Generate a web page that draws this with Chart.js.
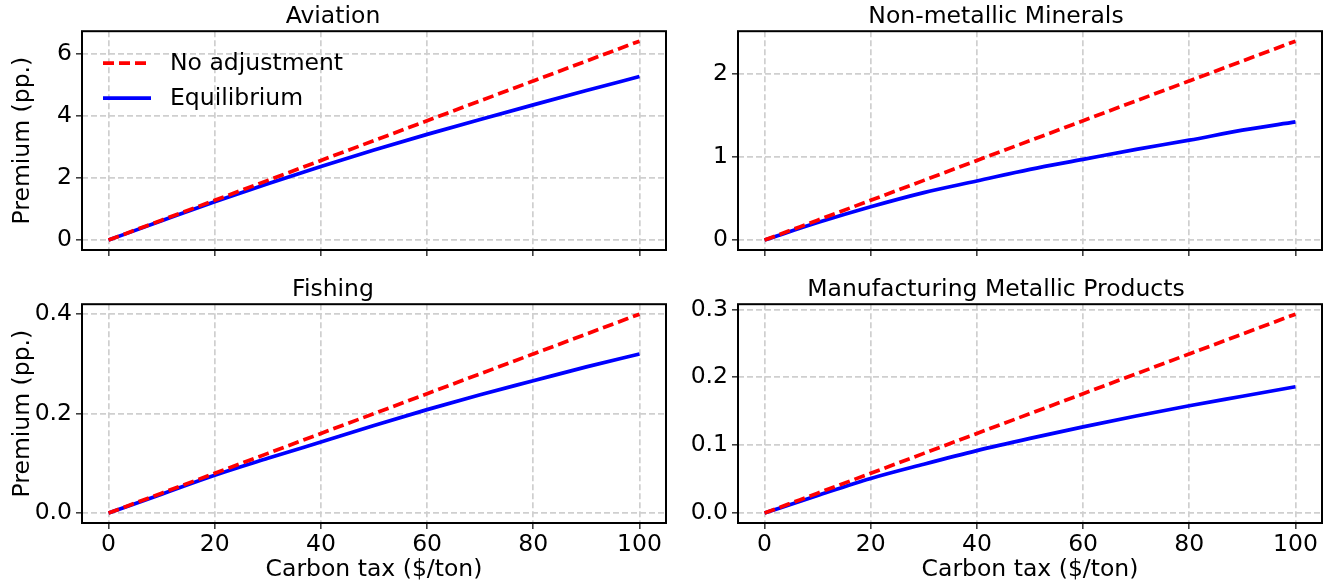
<!DOCTYPE html>
<html>
<head>
<meta charset="utf-8">
<script src="https://cdn.jsdelivr.net/npm/chart.js@4/dist/chart.umd.min.js"></script>
<style>
    html, body { margin: 0; padding: 0; background: #ffffff; }
    #figure { position: relative; width: 1336px; height: 585px; overflow: hidden; }
    #figure canvas { position: absolute; }
</style>
</head>
<body>
<div id="figure">
    <canvas id="aviation" width="670" height="270" style="left:0px;top:0px"></canvas>
    <canvas id="minerals" width="666" height="270" style="left:670px;top:0px"></canvas>
    <canvas id="fishing" width="670" height="312" style="left:0px;top:273px"></canvas>
    <canvas id="metals" width="666" height="312" style="left:670px;top:273px"></canvas>
</div>
<script>
// Carbon tax levels ($/ton) on the x axis
const carbonTax = [0, 10, 20, 30, 40, 50, 60, 70, 80, 90, 100];
const xTicks = [0, 20, 40, 60, 80, 100];

// Premium (pp.) per sector
const aviationNoAdj = [0, 0.64, 1.28, 1.92, 2.56, 3.20, 3.84, 4.48, 5.12, 5.76, 6.40];
const aviationEq = [0, 0.62, 1.23, 1.81, 2.37, 2.90, 3.40, 3.88, 4.35, 4.81, 5.26];

const mineralsNoAdj = [0, 0.239, 0.478, 0.717, 0.956, 1.195, 1.434, 1.673, 1.912, 2.151, 2.39];
const mineralsEq = [0, 0.21, 0.40, 0.57, 0.71, 0.85, 0.97, 1.09, 1.20, 1.32, 1.42];

const fishingNoAdj = [0, 0.040, 0.080, 0.120, 0.160, 0.200, 0.240, 0.280, 0.320, 0.360, 0.400];
const fishingEq = [0, 0.038, 0.076, 0.110, 0.143, 0.176, 0.208, 0.238, 0.266, 0.294, 0.320];

const metalsNoAdj = [0, 0.0293, 0.0586, 0.0879, 0.1172, 0.1465, 0.1758, 0.2051, 0.2344, 0.2637, 0.293];
const metalsEq = [0, 0.026, 0.051, 0.072, 0.092, 0.110, 0.127, 0.143, 0.158, 0.172, 0.186];

// Tick labels of the y axes
const aviationTicks = ['0', '2', '4', '6'];
const mineralsTicks = ['0', '1', '2'];
const fishingTicks = ['0.0', '0.2', '0.4'];
const metalsTicks = ['0.0', '0.1', '0.2', '0.3'];

const FONT = { family: 'DejaVu Sans', size: 23.5, weight: 'normal', lineHeight: 1.2 };
Chart.defaults.font.family = 'DejaVu Sans';
Chart.defaults.color = '#000000';

// Black box around the plot area (drawn over the lines, like the spines)
const frame = {
    id: 'frame',
    afterDatasetsDraw(chart) {
        const { ctx, chartArea: a } = chart;
        ctx.save();
        ctx.lineWidth = 2;
        ctx.strokeStyle = '#000000';
        ctx.setLineDash([]);
        ctx.strokeRect(a.left, a.top, a.right - a.left, a.bottom - a.top);
        ctx.restore();
    }
};

// Legend in the upper left corner of the plot area
const insideLegend = {
    id: 'insideLegend',
    afterDatasetsDraw(chart) {
        const { ctx, chartArea: a } = chart;
        ctx.save();
        ctx.font = '23.5px "DejaVu Sans"';
        ctx.textBaseline = 'middle';
        ctx.fillStyle = '#000000';
        chart.data.datasets.forEach((ds, i) => {
            const y = a.top + 32 + i * 35;
            const x = a.left + 21;
            ctx.strokeStyle = ds.borderColor;
            ctx.lineWidth = ds.borderWidth;
            ctx.setLineDash(ds.borderDash || []);
            ctx.beginPath();
            ctx.moveTo(x, y);
            ctx.lineTo(x + 48, y);
            ctx.stroke();
            ctx.fillText(ds.label, x + 67, y + 1);
        });
        ctx.restore();
    }
};

function toPoints(values) {
    return values.map((v, i) => ({ x: carbonTax[i], y: v }));
}

function makePanel(id, cfg) {
    const all = cfg.noAdj.concat(cfg.eq);
    const lo = Math.min(...all);
    const hi = Math.max(...all);
    const pad = (hi - lo) * 0.05;

    const gridOpts = {
        color: '#cfcfcf',
        lineWidth: 1.7,
        drawTicks: true,
        tickLength: 6,
        tickColor: '#000000',
        tickWidth: 1.2,
        tickBorderDash: []
    };

    const plugins = [frame];
    if (cfg.legend) plugins.push(insideLegend);

    new Chart(document.getElementById(id), {
        type: 'line',
        data: {
            datasets: [{
                label: 'No adjustment',
                data: toPoints(cfg.noAdj),
                borderColor: '#ff0000',
                borderWidth: 3.7,
                borderDash: [11, 5],
                pointRadius: 0,
                fill: false,
                cubicInterpolationMode: 'monotone'
            }, {
                label: 'Equilibrium',
                data: toPoints(cfg.eq),
                borderColor: '#0000ff',
                borderWidth: 3.7,
                pointRadius: 0,
                fill: false,
                cubicInterpolationMode: 'monotone'
            }]
        },
        options: {
            responsive: false,
            animation: false,
            events: [],
            layout: { padding: { left: 0, top: 0, right: cfg.padRight, bottom: 0 } },
            plugins: {
                legend: { display: false },
                tooltip: { enabled: false },
                title: {
                    display: true,
                    text: cfg.title,
                    color: '#000000',
                    font: FONT,
                    padding: { top: 3, bottom: 0 }
                }
            },
            scales: {
                x: {
                    type: 'linear',
                    min: -5,
                    max: 105,
                    afterBuildTicks: s => { s.ticks = xTicks.map(v => ({ value: v })); },
                    afterFit: s => { s.height = cfg.xHeight; },
                    grid: gridOpts,
                    border: { display: false, dash: [6, 3] },
                    ticks: {
                        display: cfg.xLabels,
                        color: '#000000',
                        font: FONT,
                        padding: 2,
                        maxRotation: 0,
                        callback: v => String(v)
                    },
                    title: {
                        display: cfg.xLabels,
                        text: 'Carbon tax ($/ton)',
                        color: '#000000',
                        font: FONT,
                        padding: { top: 0, bottom: 1 }
                    }
                },
                y: {
                    type: 'linear',
                    min: lo - pad,
                    max: hi + pad,
                    afterBuildTicks: s => { s.ticks = cfg.yTicks.map(t => ({ value: parseFloat(t) })); },
                    afterFit: s => { s.width = cfg.yWidth; },
                    grid: gridOpts,
                    border: { display: false, dash: [6, 3] },
                    ticks: {
                        color: '#000000',
                        font: FONT,
                        padding: 4,
                        callback: (v, i) => cfg.yTicks[i]
                    },
                    title: {
                        display: cfg.yTitle,
                        text: 'Premium (pp.)',
                        color: '#000000',
                        font: FONT,
                        padding: { top: 9, bottom: 0 }
                    }
                }
            }
        },
        plugins: plugins
    });
}

makePanel('aviation', {
    title: 'Aviation', noAdj: aviationNoAdj, eq: aviationEq, yTicks: aviationTicks,
    xLabels: false, yTitle: true, legend: true, yWidth: 82, xHeight: 20, padRight: 4
});
makePanel('minerals', {
    title: 'Non-metallic Minerals', noAdj: mineralsNoAdj, eq: mineralsEq, yTicks: mineralsTicks,
    xLabels: false, yTitle: false, legend: false, yWidth: 68, xHeight: 20, padRight: 14
});
makePanel('fishing', {
    title: 'Fishing', noAdj: fishingNoAdj, eq: fishingEq, yTicks: fishingTicks,
    xLabels: true, yTitle: true, legend: false, yWidth: 82, xHeight: 62, padRight: 4
});
makePanel('metals', {
    title: 'Manufacturing Metallic Products', noAdj: metalsNoAdj, eq: metalsEq, yTicks: metalsTicks,
    xLabels: true, yTitle: false, legend: false, yWidth: 68, xHeight: 62, padRight: 14
});
</script>
</body>
</html>
